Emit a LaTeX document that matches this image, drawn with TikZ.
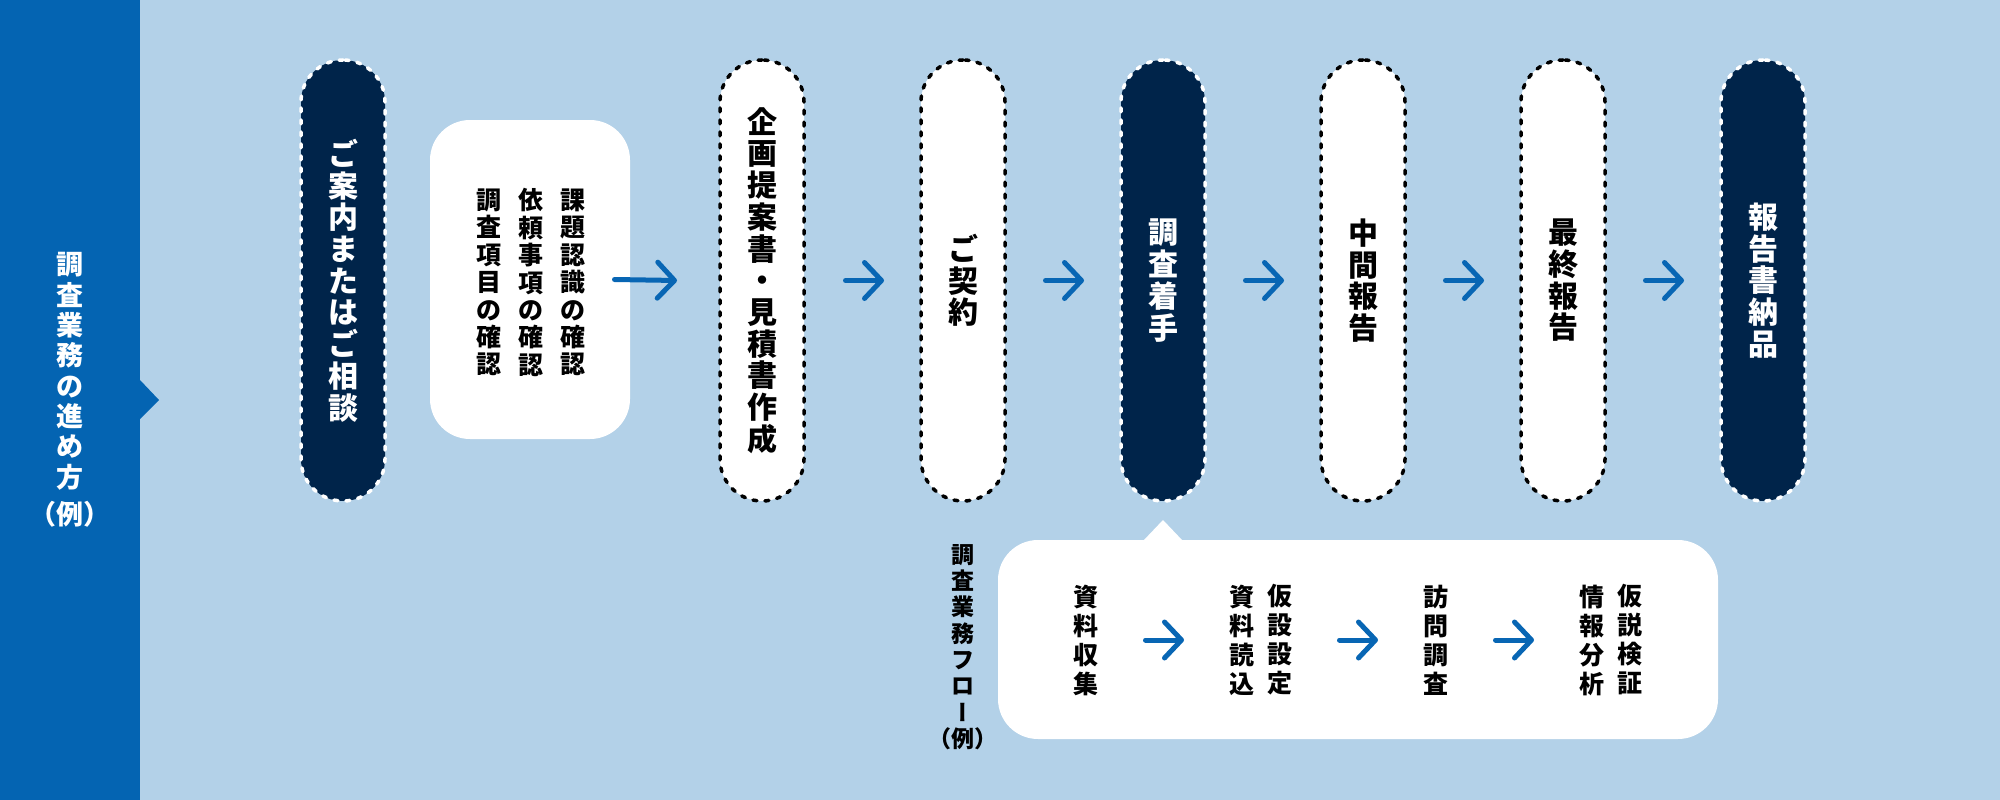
\documentclass[tikz,border=0pt]{standalone}
\usepackage{fontspec}
\newfontfamily\cjk{Noto Sans CJK JP}
\newfontfamily\cjkv[RawFeature=+vert]{Noto Sans CJK JP}
\usetikzlibrary{arrows.meta}
\definecolor{bgblue}{HTML}{B3D1E8}
\definecolor{bandblue}{HTML}{0464B2}
\definecolor{navy}{HTML}{00244A}
\definecolor{arrowblue}{HTML}{0866B4}
\begin{document}
\begin{tikzpicture}[x=1pt,y=-1pt,
  pill/.style={rectangle, minimum width=84pt, minimum height=441pt, rounded corners=41.9pt,
    inner sep=0pt, outer sep=0pt, line width=3.5pt, line cap=round, dash pattern=on 4pt off 8pt,
    align=center, font=\cjk\bfseries\fontsize{30pt}{31.7pt}\selectfont},
  pilldark/.style={pill, fill=navy, draw=white, text=white},
  pilllight/.style={pill, fill=white, draw=black, text=black},
  boxtxt/.style={inner sep=0pt, outer sep=0pt, align=center, text=black,
    font=\cjk\bfseries\fontsize{25pt}{27.4pt}\selectfont},
  flowtxt/.style={inner sep=0pt, outer sep=0pt, align=center, text=black,
    font=\cjk\bfseries\fontsize{25pt}{29pt}\selectfont},
  flow/.style={draw=arrowblue, line width=5pt, line cap=round,
    -{Straight Barb[length=17pt, width=36pt, round]}},
  callout/.style={rectangle, fill=white, rounded corners=40pt, inner sep=0pt, outer sep=0pt}
]
\useasboundingbox (0,0) rectangle (2000,800);
\fill[bgblue] (0,0) rectangle (2000,800);
\fill[bandblue] (0,0) rectangle (140,800);
\fill[bandblue] (140,380) -- (159,400) -- (140,419) -- cycle;

\node[inner sep=0pt, align=center, text=white, font=\cjk\bfseries\fontsize{27pt}{30.3pt}\selectfont]
  (lbl) at (70,390) {調\\査\\業\\務\\の\\進\\め\\方\\[7.2pt]（例）};

% main pills
\node[pilldark] (p1) at (343,280.5) {ご\\案\\内\\ま\\た\\は\\ご\\相\\談};
\node[callout, minimum width=200pt, minimum height=319pt] (b1) at (530,279.5) {};
\node[boxtxt] (t1) at (573,282.5) {課\\題\\認\\識\\の\\確\\認};
\node[boxtxt] (t2) at (531,282.5) {依\\頼\\事\\項\\の\\確\\認};
\node[boxtxt] (t3) at (489,282.5) {調\\査\\項\\目\\の\\確\\認};
\node[pilllight] (p2) at (762,280.5) {企\\画\\提\\案\\書\\・\\見\\積\\書\\作\\成};
\node[pilllight] (p3) at (963,280.5) {ご\\契\\約};
\node[pilldark] (p4) at (1163,280.5) {調\\査\\着\\手};
\node[pilllight] (p5) at (1363,280.5) {中\\間\\報\\告};
\node[pilllight] (p6) at (1563,280.5) {最\\終\\報\\告};
\node[pilldark] (p7) at (1763,280.5) {報\\告\\書\\納\\品};

\draw[flow] ([xshift=-15.5pt]b1.east) -- ([xshift=-43pt]p2.west);
\draw[flow] ([xshift=41.5pt]p2.east) -- ([xshift=-37pt]p3.west);
\draw[flow] ([xshift=40.5pt]p3.east) -- ([xshift=-37pt]p4.west);
\draw[flow] ([xshift=40.5pt]p4.east) -- ([xshift=-37pt]p5.west);
\draw[flow] ([xshift=40.5pt]p5.east) -- ([xshift=-37pt]p6.west);
\draw[flow] ([xshift=40.5pt]p6.east) -- ([xshift=-37pt]p7.west);

% lower flow
\node[inner sep=0pt, align=center, text=black, font=\cjk\bfseries\fontsize{23pt}{26.3pt}\selectfont]
  (flbl) at (963,647) {調\\査\\業\\務\\フ\\ロ\\{\cjkv ー}\\（例）};
\node[callout, minimum width=720pt, minimum height=199pt] (b2) at (1358,639.5) {};
\fill[white] (1143,541) -- (1163,520) -- (1183,541) -- cycle;
\node[flowtxt] (c1) at (1086,640) {資\\料\\収\\集};
\node[flowtxt] (c2l) at (1242,640) {資\\料\\読\\込};
\node[flowtxt] (c2r) at (1280,640) {仮\\設\\設\\定};
\node[flowtxt] (c3) at (1436,640) {訪\\問\\調\\査};
\node[flowtxt] (c4l) at (1592,640) {情\\報\\分\\析};
\node[flowtxt] (c4r) at (1630,640) {仮\\説\\検\\証};
\draw[flow] ([xshift=47pt]c1.east) -- ([xshift=-45.5pt]c2l.west);
\draw[flow] ([xshift=47pt]c2r.east) -- ([xshift=-45.5pt]c3.west);
\draw[flow] ([xshift=47pt]c3.east) -- ([xshift=-45.5pt]c4l.west);
\end{tikzpicture}
\end{document}
